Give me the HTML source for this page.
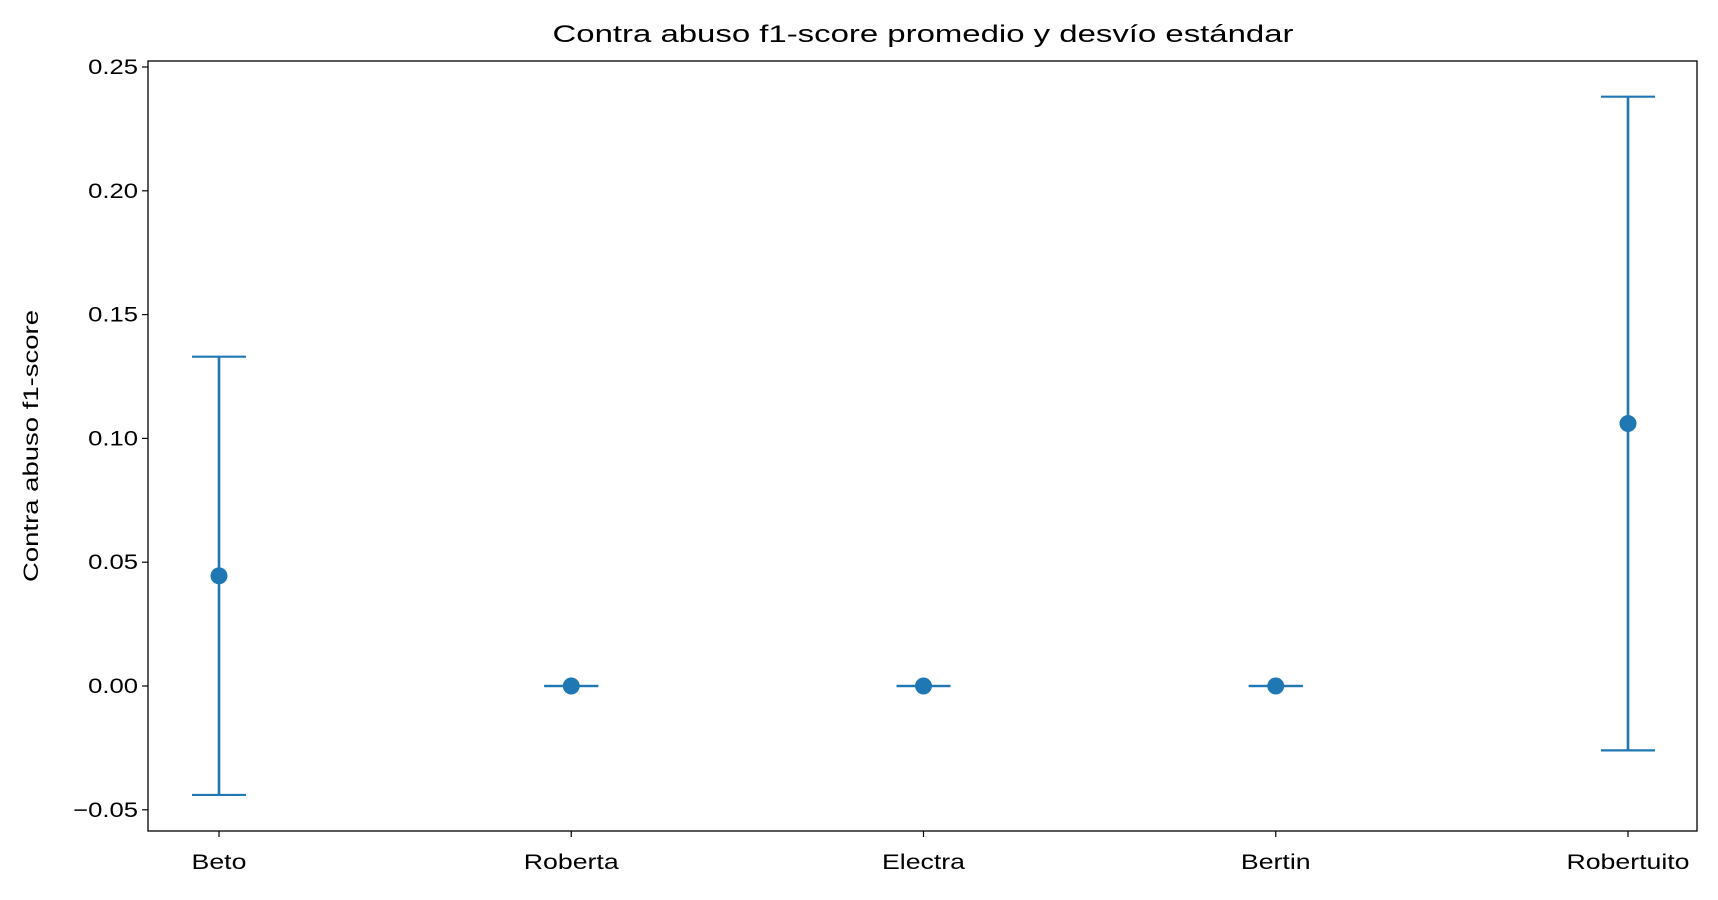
<!DOCTYPE html>
<html><head><meta charset="utf-8"><style>
body{margin:0;background:#fff;}
svg text{font-family:"Liberation Sans",sans-serif;fill:#000;}
</style></head><body>
<svg id="chart" width="1718" height="895" xmlns="http://www.w3.org/2000/svg">
<text id="title" x="923" y="42" font-size="24" text-anchor="middle">Contra abuso f1-score promedio y desvío estándar</text>
<text id="ytitle" transform="translate(38,446) rotate(-90)" font-size="21" text-anchor="middle">Contra abuso f1-score</text>
<g id="marks"></g>
<rect x="148" y="61" width="1549" height="770" fill="none" stroke="#000" stroke-width="1.3"/>
</svg>
<script>
const categories=["Beto","Roberta","Electra","Bertin","Robertuito"];
const means=[0.0445,0,0,0,0.106];
const stds=[0.0885,0,0,0,0.132];
const yTicks=[-0.05,0,0.05,0.10,0.15,0.20,0.25];
const yTickLabels=["\u22120.05","0.00","0.05","0.10","0.15","0.20","0.25"];
const NS="http://www.w3.org/2000/svg";
const svg=document.getElementById('chart');
const g=document.getElementById('marks');
function y(v){return 686-v*(686-67)/0.25;}
function x(i){return 219+i*(1628-219)/(categories.length-1);}
function mk(t,a){const e=document.createElementNS(NS,t);for(const k in a)e.setAttribute(k,a[k]);return e;}
function widen(el,f){const w=el.getComputedTextLength();el.setAttribute('textLength',w*f);el.setAttribute('lengthAdjust','spacingAndGlyphs');}
const col="#1f77b4";
yTicks.forEach((v,i)=>{
  const t=mk('line',{x1:142,x2:148,y1:y(v),y2:y(v),stroke:'#000','stroke-width':1.2});
  
  
  svg.appendChild(t);
  const l=mk('text',{x:138,y:y(v)+7,'font-size':21,'text-anchor':'end'});
  l.textContent=yTickLabels[i];
  
  
  svg.appendChild(l);
  widen(l,1.22);
});
categories.forEach((c,i)=>{
  const t=mk('line',{x1:x(i),x2:x(i),y1:831,y2:837,stroke:'#000','stroke-width':1.2});
  
  
  svg.appendChild(t);
  const l=mk('text',{x:x(i),y:869,'font-size':21,'text-anchor':'middle'});
  l.textContent=c;
  
  
  svg.appendChild(l);
  widen(l,1.27);
  const lo=y(means[i]-stds[i]),hi=y(means[i]+stds[i]);
  const v=mk('line',{x1:x(i),x2:x(i),y1:lo,y2:hi,stroke:col,'stroke-width':2.6});
  
  
  g.appendChild(v);
  [lo,hi].forEach(yy=>{
    const cap=mk('line',{x1:x(i)-27,x2:x(i)+27,y1:yy,y2:yy,stroke:col,'stroke-width':2.2});
    
    
    g.appendChild(cap);
  });
  const p=mk('circle',{cx:x(i),cy:y(means[i]),r:8.5,fill:col});
  
  
  g.appendChild(p);
});
const tt=document.getElementById('title');
tt.setAttribute('textLength',741);tt.setAttribute('lengthAdjust','spacingAndGlyphs');
const yt=document.getElementById('ytitle');
yt.setAttribute('textLength',272);yt.setAttribute('lengthAdjust','spacingAndGlyphs');
</script>
</body></html>
